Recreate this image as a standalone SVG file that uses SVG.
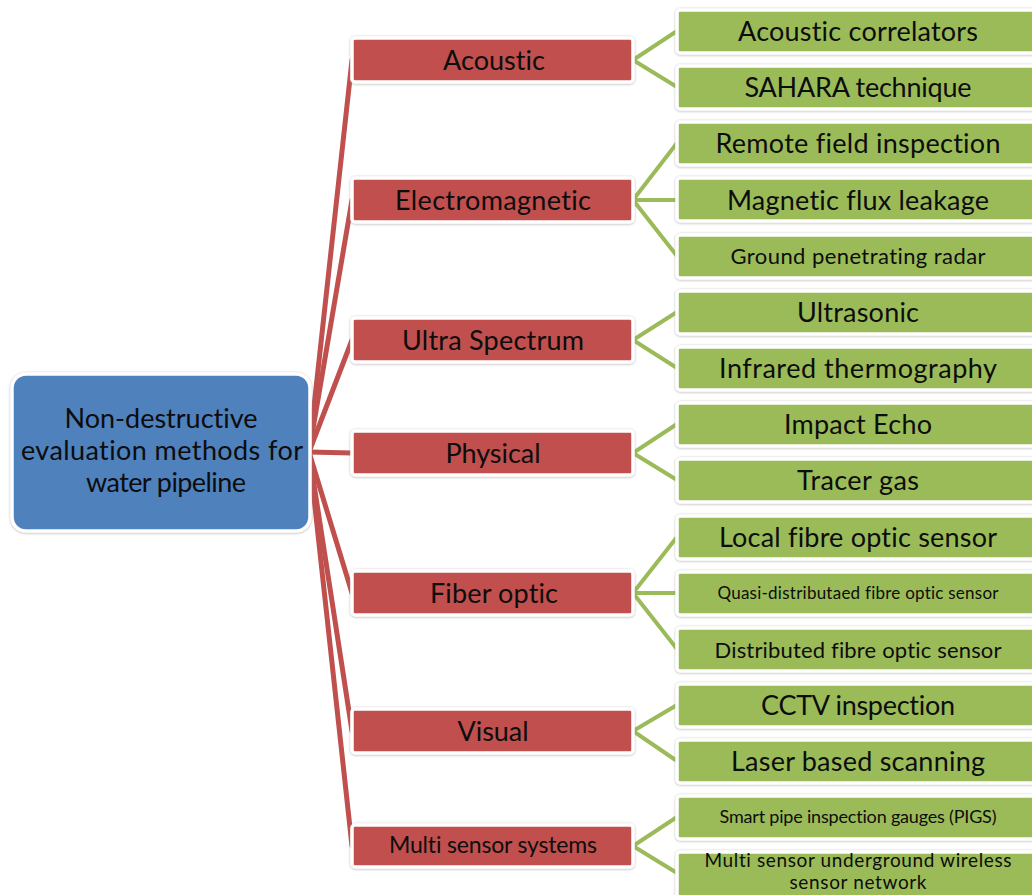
<svg xmlns="http://www.w3.org/2000/svg" width="1032" height="895" viewBox="0 0 1032 895">
  <defs>
    <filter id="halo" x="-5%" y="-20%" width="110%" height="140%">
      <feDropShadow dx="0" dy="0.5" stdDeviation="1" flood-color="#7f7f7f" flood-opacity="0.6"/>
    </filter>
  </defs>
  <style>
    .box { stroke: #ffffff; stroke-width: 3.5; filter: url(#halo); }
    .root { fill: #4f81bd; }
    .cat { fill: #c0504d; }
    .leaf { fill: #9bbb59; }
    text { font-family: Lato, "Liberation Sans", sans-serif; fill: #0d0d0d; text-anchor: middle; font-variant-ligatures: none; }
    .l1 { stroke: #c0504d; stroke-width: 5; fill: none; stroke-linecap: round; }
    .l2 { stroke: #9bbb59; stroke-width: 4; fill: none; stroke-linecap: round; }
  </style>
  <rect width="1032" height="895" fill="#ffffff"/>

  <!-- connectors: root to categories, categories to methods -->
  <g id="connectors">
    <path class="l1" d="M309,452 L352,60"/>
    <path class="l1" d="M309,452 L352,200"/>
    <path class="l1" d="M309,452 L352,340"/>
    <path class="l1" d="M309,452 L352,453"/>
    <path class="l1" d="M309,452 L352,593"/>
    <path class="l1" d="M309,452 L352,731"/>
    <path class="l1" d="M309,452 L352,846"/>

    <path class="l2" d="M633,60 L677,31 M633,60 L677,87"/>
    <path class="l2" d="M633,200 L677,143 M633,200 L677,200 M633,200 L677,256"/>
    <path class="l2" d="M633,340 L677,312 M633,340 L677,368"/>
    <path class="l2" d="M633,453 L677,424 M633,453 L677,480"/>
    <path class="l2" d="M633,593 L677,537 M633,593 L677,593 M633,593 L677,649"/>
    <path class="l2" d="M633,731 L677,705 M633,731 L677,761"/>
    <path class="l2" d="M633,846 L677,817 M633,846 L677,873"/>
  </g>

  <!-- root -->
  <g id="root">
    <rect class="box root" x="12" y="374" width="298" height="157" rx="14"/>
    <text x="161" y="428" font-size="27" textLength="193">Non-destructive</text>
    <text x="162" y="460" font-size="27" textLength="282">evaluation methods for</text>
    <text x="166" y="492" font-size="27" textLength="160">water pipeline</text>
  </g>

  <!-- categories -->
  <g id="cat-acoustic">
    <rect class="box cat" x="352" y="38" width="281" height="44" rx="3"/>
    <text x="494" y="70" font-size="27" textLength="102">Acoustic</text>
  </g>
  <g id="cat-electromagnetic">
    <rect class="box cat" x="352" y="178" width="281" height="44" rx="3"/>
    <text x="493" y="210" font-size="27" textLength="196">Electromagnetic</text>
  </g>
  <g id="cat-ultra">
    <rect class="box cat" x="352" y="318" width="281" height="44" rx="3"/>
    <text x="493" y="350" font-size="27" textLength="182">Ultra Spectrum</text>
  </g>
  <g id="cat-physical">
    <rect class="box cat" x="352" y="431" width="281" height="44" rx="3"/>
    <text x="493" y="463" font-size="27" textLength="95">Physical</text>
  </g>
  <g id="cat-fiber">
    <rect class="box cat" x="352" y="571" width="281" height="44" rx="3"/>
    <text x="494" y="603" font-size="27" textLength="128">Fiber optic</text>
  </g>
  <g id="cat-visual">
    <rect class="box cat" x="352" y="709" width="281" height="44" rx="3"/>
    <text x="493" y="741" font-size="27" textLength="71">Visual</text>
  </g>
  <g id="cat-multi">
    <rect class="box cat" x="352" y="825" width="281" height="42" rx="3"/>
    <text x="493" y="853" font-size="23" textLength="208">Multi sensor systems</text>
  </g>

  <!-- methods -->
  <g id="m-acoustic-correlators">
    <rect class="box leaf" x="677" y="10" width="366" height="43" rx="3"/>
    <text x="858" y="41" font-size="27" textLength="240">Acoustic correlators</text>
  </g>
  <g id="m-sahara">
    <rect class="box leaf" x="677" y="66" width="366" height="43" rx="3"/>
    <text x="858" y="97" font-size="27" textLength="227">SAHARA technique</text>
  </g>
  <g id="m-remote-field">
    <rect class="box leaf" x="677" y="122" width="366" height="43" rx="3"/>
    <text x="858" y="153" font-size="27" textLength="285">Remote field inspection</text>
  </g>
  <g id="m-mfl">
    <rect class="box leaf" x="677" y="178" width="366" height="43" rx="3"/>
    <text x="858" y="210" font-size="27" textLength="262">Magnetic flux leakage</text>
  </g>
  <g id="m-gpr">
    <rect class="box leaf" x="677" y="235" width="366" height="43" rx="3"/>
    <text x="858" y="264" font-size="22" textLength="255">Ground penetrating radar</text>
  </g>
  <g id="m-ultrasonic">
    <rect class="box leaf" x="677" y="291" width="366" height="43" rx="3"/>
    <text x="858" y="322" font-size="27" textLength="122">Ultrasonic</text>
  </g>
  <g id="m-infrared">
    <rect class="box leaf" x="677" y="347" width="366" height="43" rx="3"/>
    <text x="858" y="378" font-size="27" textLength="278">Infrared thermography</text>
  </g>
  <g id="m-impact-echo">
    <rect class="box leaf" x="677" y="403" width="366" height="43" rx="3"/>
    <text x="858" y="434" font-size="27" textLength="148">Impact Echo</text>
  </g>
  <g id="m-tracer-gas">
    <rect class="box leaf" x="677" y="459" width="366" height="43" rx="3"/>
    <text x="858" y="490" font-size="27" textLength="122">Tracer gas</text>
  </g>
  <g id="m-local-fibre">
    <rect class="box leaf" x="677" y="516" width="366" height="43" rx="3"/>
    <text x="858" y="547" font-size="27" textLength="278">Local fibre optic sensor</text>
  </g>
  <g id="m-quasi-fibre">
    <rect class="box leaf" x="677" y="572" width="366" height="43" rx="3"/>
    <text x="858" y="599" font-size="17" textLength="281">Quasi-distributaed fibre optic sensor</text>
  </g>
  <g id="m-distributed-fibre">
    <rect class="box leaf" x="677" y="628" width="366" height="43" rx="3"/>
    <text x="858" y="658" font-size="22" textLength="287">Distributed fibre optic sensor</text>
  </g>
  <g id="m-cctv">
    <rect class="box leaf" x="677" y="684" width="366" height="43" rx="3"/>
    <text x="858" y="715" font-size="27" textLength="194">CCTV inspection</text>
  </g>
  <g id="m-laser">
    <rect class="box leaf" x="677" y="740" width="366" height="43" rx="3"/>
    <text x="858" y="771" font-size="27" textLength="254">Laser based scanning</text>
  </g>
  <g id="m-pigs">
    <rect class="box leaf" x="677" y="796" width="366" height="43" rx="3"/>
    <text x="858" y="823" font-size="18" textLength="277">Smart pipe inspection gauges (PIGS)</text>
  </g>
  <g id="m-wireless">
    <rect class="box leaf" x="677" y="852" width="366" height="45" rx="3"/>
    <text x="858" y="867" font-size="19" textLength="307">Multi sensor underground wireless</text>
    <text x="858" y="889" font-size="19" textLength="137">sensor network</text>
  </g>
</svg>
